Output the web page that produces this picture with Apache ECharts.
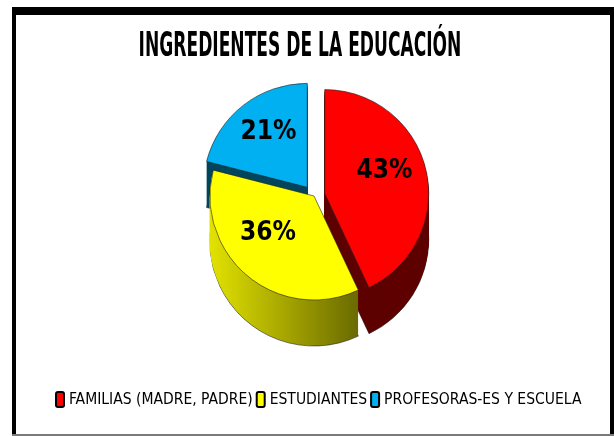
<!DOCTYPE html>
<html>
<head>
<meta charset="utf-8">
<script src="https://cdn.jsdelivr.net/npm/echarts@6/dist/echarts.min.js"></script>
<style>
  html, body { margin: 0; padding: 0; background: #fff; }
  #chart { width: 614px; height: 436px; }
</style>
</head>
<body>
<div id="chart"></div>
<script>
// data
var categories = ['FAMILIAS (MADRE, PADRE)', 'ESTUDIANTES', 'PROFESORAS-ES Y ESCUELA'];
var shares = [43, 36, 21];
var exploded = [true, false, true];

var topColors = ['#ff0000', '#ffff00', '#00b0f0'];
var sideColors = [
    '#5e0000',
    { type: 'linear', x: 0, y: 0, x2: 1, y2: 0,
      colorStops: [{ offset: 0, color: '#e2e200' }, { offset: 1, color: '#6a6a00' }] },
    '#00465c'
];

var narrow = "'DejaVu Sans Condensed', 'DejaVu Sans', sans-serif";
var cx = 314, cy = 196, radius = 104, depth = 46;
var labelShift = [[6, -10], [-11, -5], [-5, -12]];

function sliceData(colors) {
    let out = [];
    for (let i = 0; i < categories.length; i++) {
        out.push({
            name: categories[i],
            value: shares[i],
            selected: exploded[i],
            itemStyle: { color: colors[i] }
        });
    }
    return out;
}

function layer(offsetY, colors, isTop, isBottom) {
    return {
        type: 'pie',
        center: [cx, cy + offsetY],
        radius: radius,
        startAngle: 90,
        clockwise: true,
        selectedMode: 'multiple',
        selectedOffset: 11,
        silent: !isTop,
        animation: false,
        itemStyle: {
            borderColor: isTop || isBottom ? '#222' : 'transparent',
            borderWidth: isTop || isBottom ? 0.6 : 0
        },
        label: isTop ? {
            show: true,
            position: 'inside',
            formatter: '{d}%',
            fontFamily: narrow,
            fontWeight: 'bold',
            fontSize: 26,
            color: '#000'
        } : { show: false },
        labelLine: { show: false },
        labelLayout: isTop ? function (p) {
            return { dx: labelShift[p.dataIndex][0], dy: labelShift[p.dataIndex][1] };
        } : null,
        emphasis: { disabled: true },
        data: sliceData(colors)
    };
}

var series = [];
for (let d = depth; d >= 1; d--) {
    series.push(layer(d, sideColors, false, d === depth));
}
series.push(layer(0, topColors, true, false));

var chart = echarts.init(document.getElementById('chart'));
chart.setOption({
    backgroundColor: '#fff',
    animation: false,
    legend: {
        left: 50,
        top: 386,
        width: 570,
        itemGap: 3,
        itemWidth: 8,
        itemHeight: 15,
        icon: 'roundRect',
        selectedMode: false,
        textStyle: { fontFamily: narrow, fontSize: 15.5, color: '#000' },
        data: categories.map(function (c, i) {
            return { name: c, itemStyle: { color: topColors[i], borderColor: '#000', borderWidth: 2 } };
        })
    },
    graphic: [
        { type: 'rect', shape: { x: 12, y: 7, width: 602, height: 8 }, style: { fill: '#000' }, silent: true },
        { type: 'rect', shape: { x: 12, y: 7, width: 4, height: 429 }, style: { fill: '#000' }, silent: true },
        { type: 'rect', shape: { x: 610, y: 7, width: 4, height: 429 }, style: { fill: '#000' }, silent: true },
        { type: 'rect', shape: { x: 12, y: 434, width: 602, height: 2 }, style: { fill: '#7a7a7a' }, silent: true },
        {
            type: 'text',
            x: 300, y: 47,
            scaleY: 1.8,
            style: {
                text: 'INGREDIENTES DE LA EDUCACIÓN',
                font: 'bold 19px ' + narrow,
                fill: '#000',
                align: 'center',
                verticalAlign: 'middle'
            }
        }
    ],
    series: series
});
</script>
</body>
</html>
